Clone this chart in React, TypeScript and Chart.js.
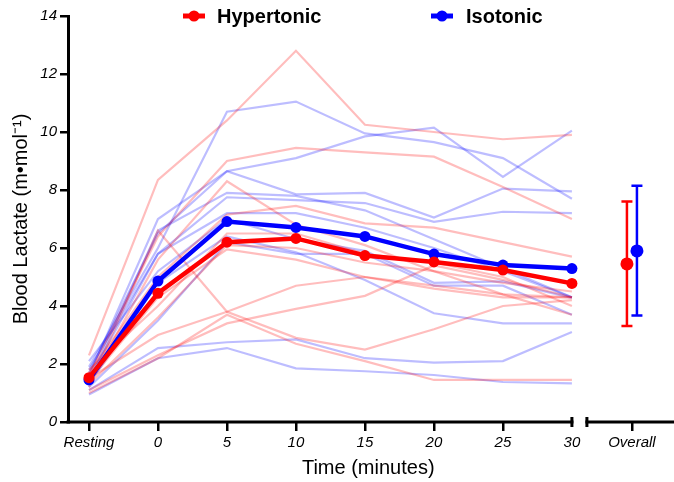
import React, { useEffect, useRef } from "react";
import { Chart, registerables } from "chart.js";

Chart.register(...registerables);

const FONT = "'Liberation Sans', Arial, Helvetica, sans-serif";

// ---- data ----
const timeLabels = ["Resting", "0", "5", "10", "15", "20", "25", "30"];
const overallLabel = "Overall";
const yTicks = [0, 2, 4, 6, 8, 10, 12, 14];
const seriesNames = ["Hypertonic", "Isotonic"];

const hyperMean = [1.53, 4.44, 6.2, 6.33, 5.74, 5.52, 5.24, 4.78];
const isoMean = [1.45, 4.86, 6.91, 6.71, 6.4, 5.79, 5.41, 5.29];

const hyperSubjects = [
  [2.3, 8.35, 10.4, 12.8, 10.25, 10.0, 9.75, 9.9],
  [1.6, 6.4, 9.0, 9.45, 9.3, 9.15, 8.1, 7.0],
  [1.3, 5.6, 8.3, 6.8, 6.1, 5.2, 4.4, 3.7],
  [1.2, 6.6, 3.8, 2.9, 2.5, 3.2, 4.0, 4.2],
  [1.7, 5.0, 7.15, 7.45, 6.85, 6.7, 6.2, 5.7],
  [1.4, 4.3, 5.95, 5.6, 5.0, 4.7, 4.4, 4.3],
  [1.5, 3.0, 3.8, 4.7, 5.0, 4.6, 4.3, 4.3],
  [1.1, 2.3, 3.4, 3.9, 4.35, 5.4, 4.9, 4.3],
  [1.8, 4.0, 6.5, 6.5, 5.8, 5.5, 5.0, 4.0],
  [1.0, 2.2, 3.7, 2.7, 2.1, 1.45, 1.45, 1.45],
  [1.3, 3.6, 6.1, 6.0, 5.5, 5.2, 4.8, 4.5],
];

const isoSubjects = [
  [1.9, 6.0, 10.7, 11.05, 9.95, 9.65, 9.1, 7.7],
  [1.7, 6.5, 8.65, 9.1, 9.85, 10.15, 8.45, 10.05],
  [1.6, 7.0, 8.65, 7.85, 7.9, 7.05, 8.05, 7.95],
  [1.5, 5.8, 7.75, 7.65, 7.55, 6.9, 7.25, 7.2],
  [1.4, 6.6, 7.9, 7.8, 7.3, 6.3, 5.3, 4.3],
  [1.3, 4.8, 6.4, 5.85, 4.9, 3.75, 3.4, 3.4],
  [2.1, 5.2, 7.0, 6.3, 5.9, 4.8, 4.85, 4.28],
  [1.2, 3.5, 6.2, 5.8, 5.8, 4.7, 4.7, 3.7],
  [1.1, 2.55, 2.75, 2.85, 2.2, 2.05, 2.1, 3.1],
  [0.95, 2.2, 2.55, 1.85, 1.75, 1.62, 1.38, 1.33],
  [1.8, 5.8, 7.2, 7.2, 6.7, 6.0, 5.2, 4.3],
];

// overall [Hypertonic, Isotonic]
const overallMean = [5.45, 5.9];
const overallLow = [3.31, 3.67];
const overallHigh = [7.6, 8.15];
const overallPosition = 7.87;

const seriesColors = ["#ff0000", "#0000ff"];
const faintColors = ["rgba(255,0,0,0.26)", "rgba(0,0,255,0.26)"];

const decorPlugin = {
  id: "decor",
  afterDatasetsDraw(chart: any) {
    const { ctx, chartArea, scales } = chart;
    const x = scales.x;
    const y = scales.y;
    ctx.save();
    // broken x axis
    const yb = chartArea.bottom;
    const x30 = x.getPixelForValue(timeLabels.length - 1);
    const x2 = x30 + 15;
    ctx.strokeStyle = "#000";
    ctx.lineWidth = 3;
    ctx.lineCap = "butt";
    ctx.beginPath();
    ctx.moveTo(chartArea.left - 1.5, yb);
    ctx.lineTo(x30 + 1.5, yb);
    ctx.moveTo(x2 - 1.5, yb);
    ctx.lineTo(chart.width, yb);
    ctx.stroke();
    ctx.beginPath();
    ctx.moveTo(x30, yb - 5);
    ctx.lineTo(x30, yb + 5);
    ctx.moveTo(x2, yb - 5);
    ctx.lineTo(x2, yb + 5);
    ctx.stroke();

    // overall error bars
    const xo = x.getPixelForValue(overallPosition);
    const offs = [-5, 5];
    for (let i = 0; i < 2; i++) {
      const cx = xo + offs[i];
      const yh = y.getPixelForValue(overallHigh[i]);
      const yl = y.getPixelForValue(overallLow[i]);
      const ym = y.getPixelForValue(overallMean[i]);
      ctx.strokeStyle = seriesColors[i];
      ctx.lineWidth = 2.5;
      ctx.beginPath();
      ctx.moveTo(cx, yh);
      ctx.lineTo(cx, yl);
      ctx.moveTo(cx - 5.5, yh);
      ctx.lineTo(cx + 5.5, yh);
      ctx.moveTo(cx - 5.5, yl);
      ctx.lineTo(cx + 5.5, yl);
      ctx.stroke();
      ctx.fillStyle = seriesColors[i];
      ctx.beginPath();
      ctx.arc(cx, ym, 6.5, 0, Math.PI * 2);
      ctx.fill();
    }

    // legend
    const legendItems = [
      { mx: 183, tx: 217 },
      { mx: 431, tx: 466 },
    ];
    const ly = 16;
    ctx.font = `bold 20px ${FONT}`;
    ctx.textBaseline = "middle";
    ctx.textAlign = "left";
    legendItems.forEach((it, i) => {
      ctx.strokeStyle = seriesColors[i];
      ctx.fillStyle = seriesColors[i];
      ctx.lineWidth = 5;
      ctx.beginPath();
      ctx.moveTo(it.mx, ly);
      ctx.lineTo(it.mx + 22, ly);
      ctx.stroke();
      ctx.beginPath();
      ctx.arc(it.mx + 11, ly, 5.5, 0, Math.PI * 2);
      ctx.fill();
      ctx.fillStyle = "#000";
      ctx.fillText(seriesNames[i], it.tx, ly + 1);
    });
    ctx.restore();
  },
};

export default function App() {
  const ref = useRef<HTMLCanvasElement | null>(null);

  useEffect(() => {
    if (!ref.current) return;
    const toPoints = (arr: number[]) => arr.map((v, i) => ({ x: i, y: v }));
    const datasets: any[] = [];
    hyperSubjects.forEach((s) =>
      datasets.push({
        label: "Hypertonic subject",
        data: toPoints(s),
        borderColor: faintColors[0],
        borderWidth: 2.2,
        pointRadius: 0,
        order: 10,
      })
    );
    isoSubjects.forEach((s) =>
      datasets.push({
        label: "Isotonic subject",
        data: toPoints(s),
        borderColor: faintColors[1],
        borderWidth: 2.2,
        pointRadius: 0,
        order: 10,
      })
    );
    datasets.push({
      label: seriesNames[1],
      data: toPoints(isoMean),
      borderColor: seriesColors[1],
      backgroundColor: seriesColors[1],
      borderWidth: 4.5,
      pointRadius: 5.5,
      pointBorderWidth: 0,
      order: 1,
    });
    datasets.push({
      label: seriesNames[0],
      data: toPoints(hyperMean),
      borderColor: seriesColors[0],
      backgroundColor: seriesColors[0],
      borderWidth: 4.5,
      pointRadius: 5.5,
      pointBorderWidth: 0,
      order: 0,
    });

    const chart = new Chart(ref.current, {
      type: "line",
      data: { datasets },
      options: {
        animation: false,
        responsive: false,
        devicePixelRatio: 1,
        layout: { padding: { top: 16, left: 0, right: 0, bottom: 0 } },
        plugins: { legend: { display: false }, tooltip: { enabled: false } },
        scales: {
          x: {
            type: "linear",
            min: -0.304,
            max: 8.4,
            afterBuildTicks: (s: any) => {
              s.ticks = [
                ...timeLabels.map((_, i) => ({ value: i })),
                { value: overallPosition },
              ];
            },
            afterFit: (s: any) => {
              s.height = 60;
              s.paddingLeft = 0;
              s.paddingRight = 0;
            },
            border: { display: false },
            grid: {
              drawOnChartArea: false,
              drawTicks: true,
              tickLength: 9,
              lineWidth: 2.5,
              color: (c: any) =>
                c.tick && c.tick.value === timeLabels.length - 1 ? "rgba(0,0,0,0)" : "#000",
            },
            ticks: {
              autoSkip: false,
              maxRotation: 0,
              padding: 3,
              color: "#000",
              font: { family: FONT, size: 15, style: "italic" },
              callback: (_v: any, i: number) =>
                i < timeLabels.length ? timeLabels[i] : overallLabel,
            },
            title: {
              display: true,
              text: "Time (minutes)",
              color: "#000",
              font: { family: FONT, size: 20 },
              padding: { top: 0, bottom: 2 },
            },
          },
          y: {
            min: 0,
            max: 14,
            afterBuildTicks: (s: any) => {
              s.ticks = yTicks.map((v) => ({ value: v }));
            },
            afterFit: (s: any) => {
              s.width = 68;
            },
            border: { display: true, color: "#000", width: 3 },
            grid: {
              drawOnChartArea: false,
              drawTicks: true,
              tickLength: 8,
              lineWidth: 2.5,
              color: "#000",
            },
            ticks: {
              padding: 3,
              color: "#000",
              font: { family: FONT, size: 15, style: "italic" },
            },
            title: {
              display: true,
              text: "Blood Lactate (m•mol⁻¹)",
              color: "#000",
              font: { family: FONT, size: 20 },
              padding: { top: 9, bottom: 0 },
            },
          },
        },
      },
      plugins: [decorPlugin],
    } as any);
    return () => chart.destroy();
  }, []);

  return (
    <div style={{ position: "absolute", left: 0, top: 0, width: 674, height: 482 }}>
      <canvas ref={ref} width={674} height={482} style={{ display: "block" }} />
    </div>
  );
}
